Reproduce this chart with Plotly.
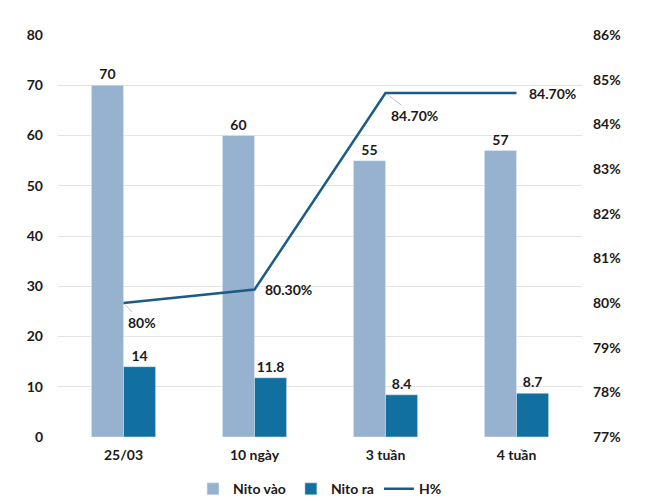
import plotly.graph_objects as go

categories = ["25/03", "10 ngày", "3 tuần", "4 tuần"]
nito_vao = [70, 60, 55, 57]
nito_ra = [14, 11.8, 8.4, 8.7]
h_pct = [0.80, 0.803, 0.847, 0.847]
h_labels = ["80%", "80.30%", "84.70%", "84.70%"]

FONT = "Lato"
TXT = "#1a1a1a"

def f(size=14):
    return dict(family=FONT, size=size, color=TXT, weight="bold")

fig = go.Figure()
fig.add_trace(go.Bar(
    x=categories, y=nito_vao, name="Nito vào",
    marker_color="#97B2CF",
    text=[str(v) for v in nito_vao], textposition="outside",
    textfont=f(),
    cliponaxis=False,
))
fig.add_trace(go.Bar(
    x=categories, y=nito_ra, name="Nito ra",
    marker_color="#11709F",
    text=[str(v) for v in nito_ra], textposition="outside",
    textfont=f(),
    cliponaxis=False,
))
fig.add_trace(go.Scatter(
    x=categories, y=h_pct, name="H%", mode="lines",
    line=dict(color="#1A5C86", width=2.5),
    yaxis="y2",
))

# line labels
offsets = [
    dict(showarrow=True, ax=18, ay=19),
    dict(showarrow=False, xanchor="left", xshift=8),
    dict(showarrow=True, ax=29, ay=22),
    dict(showarrow=False, xanchor="left", xshift=10),
]
for c, v, lab, o in zip(categories, h_pct, h_labels, offsets):
    kw = dict(x=c, y=v, xref="x", yref="y2", text=lab, font=f())
    if o.get("showarrow"):
        kw.update(showarrow=True, ax=o["ax"], ay=o["ay"], arrowhead=0,
                  arrowwidth=0.8, arrowcolor="#b0b0b0", standoff=2)
    else:
        kw.update(showarrow=False, xanchor=o["xanchor"], xshift=o["xshift"])
    fig.add_annotation(**kw)

fig.update_layout(
    width=650, height=501,
    margin=dict(l=58, r=68, t=35, b=64, autoexpand=False),
    paper_bgcolor="white", plot_bgcolor="white",
    barmode="group", bargap=0.51, bargroupgap=0,
    font=f(),
    xaxis=dict(showline=False, ticks="", ticklabelstandoff=8, tickfont=f()),
    yaxis=dict(range=[0, 80], dtick=10, showgrid=True, gridcolor="#E3E3E3",
               zeroline=False, ticks="", ticklabelstandoff=14,
               tickfont=f()),
    yaxis2=dict(range=[0.77, 0.86], dtick=0.01, tickformat=".0%", overlaying="y",
                side="right", showgrid=False, zeroline=False, ticks="",
                ticklabelstandoff=10, tickfont=f()),
    legend=dict(orientation="h", x=0.5, xanchor="center", y=-0.13, yanchor="middle",
                font=f(), traceorder="normal"),
    showlegend=True,
)

fig.write_html("out.html")
